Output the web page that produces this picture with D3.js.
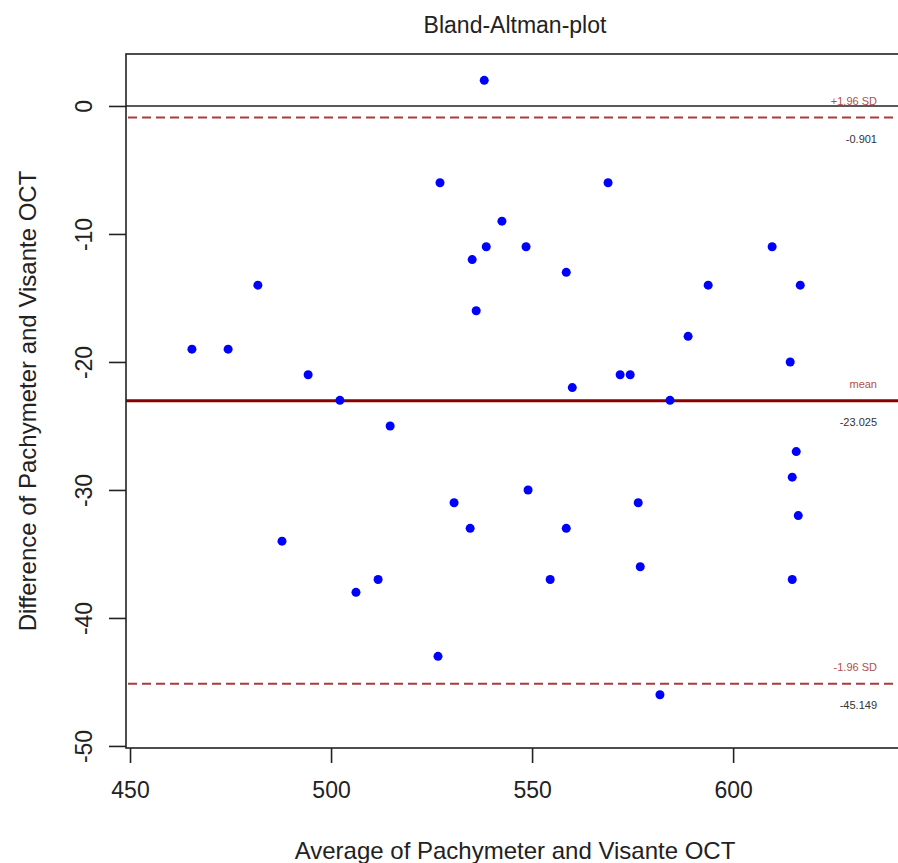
<!DOCTYPE html>
<html>
<head>
<meta charset="utf-8">
<script src="https://cdn.jsdelivr.net/npm/d3@7"></script>
<style>
  body { margin: 0; background: #fff; }
  svg { display: block; font-family: "Liberation Sans", Arial, sans-serif; }
</style>
</head>
<body>
<svg id="chart" width="898" height="863"></svg>
<script>
// averages (x) and differences (y) of the two measurements
const averages = [538.1, 527.1, 568.9, 542.5, 538.6, 548.5, 609.7, 535.1, 558.5, 481.8,
  593.8, 616.7, 536.1, 588.8, 465.4, 474.4, 614.2, 494.3, 571.9, 574.4,
  560.0, 502.2, 584.3, 514.7, 615.7, 614.7, 549.0, 530.6, 576.4, 616.2,
  534.6, 558.5, 487.8, 576.9, 511.7, 554.5, 614.7, 506.2, 526.6, 581.8];
const differences = [2, -6, -6, -9, -11, -11, -11, -12, -13, -14,
  -14, -14, -16, -18, -19, -19, -20, -21, -21, -21,
  -22, -23, -23, -25, -27, -29, -30, -31, -31, -32,
  -33, -33, -34, -36, -37, -37, -37, -38, -43, -46];
const xTicks = [450, 500, 550, 600];
const yTicks = [0, -10, -20, -30, -40, -50];

const svg = d3.select("#chart");
const box = { left: 126, top: 54, right: 904, bottom: 748 };

const x = d3.scaleLinear().domain([449, 642.5]).range([box.left, box.right]);
const y = d3.scaleLinear().domain([4.06, -50.16]).range([box.top, box.bottom]);

const meanDiff = d3.mean(differences);
const sd = d3.deviation(differences);
const upper = meanDiff + 1.96 * sd;
const lower = meanDiff - 1.96 * sd;

svg.append("rect").attr("width", 898).attr("height", 863).attr("fill", "#fff");

svg.append("clipPath").attr("id", "plotclip")
  .append("rect")
  .attr("x", box.left).attr("y", box.top)
  .attr("width", box.right - box.left).attr("height", box.bottom - box.top);

const plot = svg.append("g").attr("clip-path", "url(#plotclip)");

// zero line
plot.append("line")
  .attr("x1", box.left).attr("x2", box.right)
  .attr("y1", y(0)).attr("y2", y(0))
  .attr("stroke", "#222").attr("stroke-width", 1.6);

// limits of agreement
[upper, lower].forEach(v => {
  plot.append("line")
    .attr("x1", box.left + 2).attr("x2", box.right)
    .attr("y1", y(v)).attr("y2", y(v))
    .attr("stroke", "#b03a3a").attr("stroke-width", 2)
    .attr("stroke-dasharray", "9,5");
});

// mean line
plot.append("line")
  .attr("x1", box.left).attr("x2", box.right)
  .attr("y1", y(meanDiff)).attr("y2", y(meanDiff))
  .attr("stroke", "#8b0000").attr("stroke-width", 3);

// points
plot.selectAll("circle")
  .data(averages.map((a, i) => ({ a, d: differences[i] })))
  .join("circle")
  .attr("cx", d => x(d.a))
  .attr("cy", d => y(d.d))
  .attr("r", 4.5)
  .attr("fill", "#0000ff");

// line labels
const labels = [
  { v: upper, top: "+1.96 SD", bottom: upper.toFixed(3) },
  { v: meanDiff, top: "mean", bottom: meanDiff.toFixed(3) },
  { v: lower, top: "-1.96 SD", bottom: lower.toFixed(3) }
];
labels.forEach(l => {
  svg.append("text")
    .attr("x", 877).attr("y", y(l.v) - 13)
    .attr("text-anchor", "end")
    .attr("font-size", 11)
    .attr("fill", "#b0504a")
    .text(l.top);
  svg.append("text")
    .attr("x", 877).attr("y", y(l.v) + 25)
    .attr("text-anchor", "end")
    .attr("font-size", 11)
    .attr("fill", "#333")
    .text(l.bottom);
});

// box
svg.append("rect")
  .attr("x", box.left).attr("y", box.top)
  .attr("width", box.right - box.left).attr("height", box.bottom - box.top)
  .attr("fill", "none").attr("stroke", "#222").attr("stroke-width", 1.6);

// axes
const xAxis = svg.append("g")
  .attr("transform", `translate(0,${box.bottom})`)
  .call(d3.axisBottom(x).tickValues(xTicks).tickSize(15).tickPadding(19).tickFormat(d => String(d)));
const yAxis = svg.append("g")
  .attr("transform", `translate(${box.left},0)`)
  .call(d3.axisLeft(y).tickValues(yTicks).tickSize(17).tickFormat(d => String(d)));

[xAxis, yAxis].forEach(g => {
  g.select(".domain").remove();
  g.selectAll(".tick line").attr("stroke", "#222").attr("stroke-width", 1.6);
  g.selectAll(".tick text").attr("font-size", 23).attr("fill", "#222")
    .attr("font-family", "Liberation Sans, Arial, sans-serif");
});
yAxis.selectAll(".tick text")
  .attr("x", null).attr("dy", null)
  .attr("text-anchor", "middle")
  .attr("transform", "translate(-42,0) rotate(-90)")
  .attr("dy", "0.35em");

// titles
svg.append("text")
  .attr("x", 515).attr("y", 33)
  .attr("text-anchor", "middle")
  .attr("font-size", 23).attr("fill", "#222")
  .text("Bland-Altman-plot");

svg.append("text")
  .attr("x", 515).attr("y", 859)
  .attr("text-anchor", "middle")
  .attr("font-size", 24).attr("fill", "#222")
  .text("Average of Pachymeter and Visante OCT");

svg.append("text")
  .attr("transform", `translate(36,${(box.top + box.bottom) / 2}) rotate(-90)`)
  .attr("text-anchor", "middle")
  .attr("font-size", 24).attr("fill", "#222")
  .text("Difference of Pachymeter and Visante OCT");
</script>
</body>
</html>
